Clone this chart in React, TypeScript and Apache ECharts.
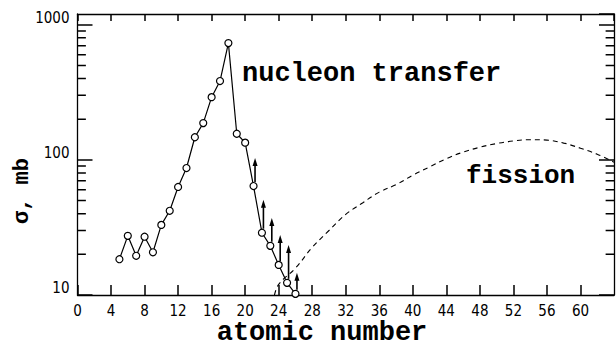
import React, { useEffect, useRef } from "react";
import * as echarts from "echarts";

const transferZ = [5, 6, 7, 8, 9, 10, 11, 12, 13, 14, 15, 16, 17, 18, 19, 20, 21, 22, 23, 24, 25, 26];
const transferSigma = [18.4, 27.4, 19.5, 27, 20.7, 33, 42, 63, 87, 147, 187, 291, 383, 731, 156, 134, 64, 28.9, 23.1, 16.7, 12.3, 10.2];
const limitZ = [21, 22, 23, 24, 25, 26];
const limitTop = [103, 50.6, 37.2, 27.8, 23.4, 14.6];
const fissionZ = [23.5, 24, 26, 28, 30, 32, 34, 36, 38, 40, 42, 44, 46, 48, 50, 52, 54, 56, 58, 60, 62, 64];
const fissionSigma = [10, 12, 15.8, 22.5, 30, 39.5, 48, 57.7, 65.5, 77, 88.6, 102, 114, 124, 132, 138, 141, 140, 133, 122, 110, 96];
const yMinorTicks = [20, 30, 40, 50, 60, 70, 80, 90, 200, 300, 400, 500, 600, 700, 800, 900];

const xTitle = "atomic number";
const yTitle = "σ, mb";
const transferLabel = "nucleon transfer";
const fissionLabel = "fission";

const tickFont = "DejaVu Sans Condensed";
const monoFont = "'Liberation Mono', 'Courier New', Courier, 'Nimbus Mono PS', FreeMono, monospace";

export default function App() {
  const ref = useRef<HTMLDivElement>(null);
  useEffect(() => {
    if (!ref.current) return;
    const chart = echarts.init(ref.current, null, { renderer: "svg" });
    const transferData = transferZ.map((z, i) => [z, transferSigma[i]]);
    const fissionData = fissionZ.map((z, i) => [z, fissionSigma[i]]);
    const limitData = limitZ.map((z, i) => {
      const k = transferZ.indexOf(z);
      return [z, transferSigma[k], limitTop[i]];
    });
    const minorSeries: any[] = [];
    yMinorTicks.forEach((v) => {
      minorSeries.push({ type: "line", data: [[0, v], [1, v]], showSymbol: false, lineStyle: { color: "#000", width: 1.5 } });
      minorSeries.push({ type: "line", data: [[63, v], [64, v]], showSymbol: false, lineStyle: { color: "#000", width: 1.5 } });
    });
    const option: any = {
      animation: false,
      backgroundColor: "#fff",
      grid: { left: 77.5, right: 2, top: 14, bottom: 52 },
      xAxis: [
        {
          type: "value", min: 0, max: 64, interval: 4, position: "bottom",
          axisLine: { show: true, onZero: false, lineStyle: { color: "#000", width: 1.3 } },
          axisTick: { show: true, inside: true, length: 10, lineStyle: { color: "#000", width: 1.5 } },
          axisLabel: { show: true, showMaxLabel: false, color: "#000", fontFamily: tickFont, fontSize: 15, margin: 8 },
          splitLine: { show: false },
        },
        {
          type: "value", min: 0, max: 64, interval: 4, position: "top",
          axisLine: { show: true, onZero: false, lineStyle: { color: "#000", width: 1.3 } },
          axisTick: { show: true, inside: true, length: 7, lineStyle: { color: "#000", width: 1.5 } },
          axisLabel: { show: false },
          splitLine: { show: false },
        },
      ],
      yAxis: [
        {
          type: "log", min: 10, max: 1200, position: "left",
          axisLine: { show: true, onZero: false, lineStyle: { color: "#000", width: 1.3 } },
          axisTick: { show: true, inside: true, length: 15, lineStyle: { color: "#000", width: 1.5 } },
          axisLabel: {
            show: true, showMaxLabel: false, color: "#000", fontFamily: tickFont, fontSize: 15, margin: 8,
            verticalAlign: "bottom", lineHeight: 14,
            formatter: (v: number) => String(Math.round(v)),
          },
          splitLine: { show: false },
        },
        {
          type: "log", min: 10, max: 1200, position: "right",
          axisLine: { show: true, onZero: false, lineStyle: { color: "#000", width: 1.3 } },
          axisTick: { show: true, inside: true, length: 15, lineStyle: { color: "#000", width: 1.5 } },
          axisLabel: { show: false },
          splitLine: { show: false },
        },
      ],
      series: [
        ...minorSeries,
        {
          type: "line",
          data: fissionData,
          showSymbol: false,
          smooth: 0.4,
          lineStyle: { color: "#000", width: 1.1, type: [5, 4] },
        },
        {
          type: "line",
          data: transferData,
          symbol: "circle",
          symbolSize: 7,
          itemStyle: { color: "#fff", borderColor: "#000", borderWidth: 1.2 },
          lineStyle: { color: "#000", width: 1.2 },
        },
        {
          type: "custom",
          coordinateSystem: "cartesian2d",
          data: limitData,
          encode: { x: 0, y: [1, 2] },
          renderItem: (params: any, api: any) => {
            const p0 = api.coord([api.value(0), api.value(1)]);
            const p1 = api.coord([api.value(0), api.value(2)]);
            const x = p0[0] + 1.5;
            return {
              type: "group",
              children: [
                { type: "line", shape: { x1: x, y1: p0[1] - 4, x2: x, y2: p1[1] + 5 }, style: { stroke: "#000", lineWidth: 1.6 } },
                {
                  type: "polygon",
                  shape: { points: [[x, p1[1]], [x - 2.5, p1[1] + 8], [x + 2.5, p1[1] + 8]] },
                  style: { fill: "#000" },
                },
              ],
            };
          },
        },
      ],
      graphic: [
        {
          type: "text", x: 242, y: 74,
          style: { text: transferLabel, fill: "#000", fontFamily: monoFont, fontSize: 27, fontWeight: "bold", align: "left", verticalAlign: "middle" },
        },
        {
          type: "text", x: 466, y: 176,
          style: { text: fissionLabel, fill: "#000", fontFamily: monoFont, fontSize: 26, fontWeight: "bold", align: "left", verticalAlign: "middle" },
        },
        {
          type: "text", x: 322, y: 333,
          style: { text: xTitle, fill: "#000", fontFamily: monoFont, fontSize: 27, fontWeight: "bold", align: "center", verticalAlign: "middle" },
        },
        {
          type: "text", x: 22, y: 191, rotation: Math.PI / 2,
          style: { text: yTitle, fill: "#000", fontFamily: monoFont, fontSize: 22, fontWeight: "bold", align: "center", verticalAlign: "middle" },
        },
      ],
    };
    chart.setOption(option);
    return () => chart.dispose();
  }, []);
  return (
    <div ref={ref} style={{ position: "fixed", left: 0, top: 0, width: 616, height: 347, background: "#fff" }} />
  );
}
